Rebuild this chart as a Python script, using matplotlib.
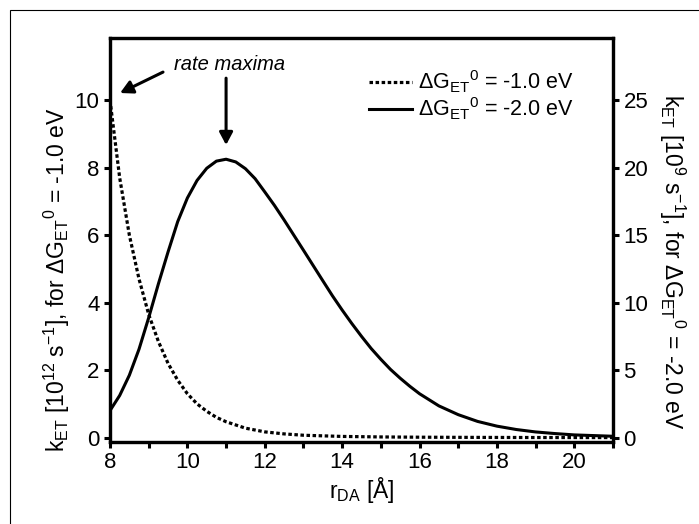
import numpy as np
import matplotlib
matplotlib.use("Agg")
import matplotlib.pyplot as plt
from matplotlib.patches import Rectangle
from matplotlib.ticker import MultipleLocator

plt.rcParams['font.family'] = ['Liberation Sans', 'DejaVu Sans']
plt.rcParams['mathtext.fontset'] = 'custom'
plt.rcParams['mathtext.rm'] = 'Liberation Sans'
plt.rcParams['mathtext.it'] = 'Liberation Sans:italic'

# dG = -1.0 eV, left axis, 10^12 s^-1
r_dot = [8.0, 8.25, 8.5, 8.75, 9.0, 9.25, 9.5, 9.75, 10.0, 10.25, 10.5, 10.75, 11.0,
         11.5, 12.0, 12.5, 13.0, 14.0, 15.0, 16.0, 17.0, 18.0, 19.0, 20.0, 21.0]
k_dot = [10.0, 7.7, 6.0, 4.7, 3.65, 2.85, 2.2, 1.7, 1.3, 1.0, 0.78, 0.6, 0.47,
         0.28, 0.17, 0.11, 0.07, 0.035, 0.02, 0.012, 0.008, 0.005, 0.003, 0.002, 0.001]

# dG = -2.0 eV, right axis, 10^9 s^-1
r_sol = [8.0, 8.25, 8.5, 8.75, 9.0, 9.25, 9.5, 9.75, 10.0, 10.25, 10.5, 10.75, 11.0,
         11.25, 11.5, 11.75, 12.0, 12.25, 12.5, 12.75, 13.0, 13.25, 13.5, 13.75, 14.0,
         14.25, 14.5, 14.75, 15.0, 15.25, 15.5, 15.75, 16.0, 16.5, 17.0, 17.5, 18.0,
         18.5, 19.0, 19.5, 20.0, 20.5, 21.0]
k_sol = [2.0, 3.12, 4.62, 6.55, 8.88, 11.38, 13.75, 16.0, 17.75, 19.05, 19.95, 20.48, 20.62,
         20.42, 19.92, 19.18, 18.2, 17.2, 16.12, 15.0, 13.88, 12.75, 11.62, 10.5, 9.45,
         8.45, 7.5, 6.6, 5.8, 5.05, 4.4, 3.8, 3.25, 2.35, 1.7, 1.2, 0.85,
         0.6, 0.42, 0.3, 0.2, 0.15, 0.1]

fig = plt.figure(figsize=(6.99, 5.24), dpi=100)
W, H = 699.0, 524.0
ax = fig.add_axes([110/W, 1-442/H, 503/W, 404/H])
ax2 = ax.twinx()

# outer frame of the picture
fig.patches.append(Rectangle((10/W, -0.2), 1.2, 1-10/H+0.2, transform=fig.transFigure,
                             fill=False, lw=0.8, ec='black'))

l1, = ax.plot(r_dot, k_dot, color='black', lw=2.3, ls=(0, (1.1, 0.8)),
              dash_capstyle='butt', label=r'$\Delta$G$_{\rm ET}$$^{0}$ = -1.0 eV')
l2, = ax2.plot(r_sol, k_sol, color='black', lw=2.2, solid_joinstyle='round',
               label=r'$\Delta$G$_{\rm ET}$$^{0}$ = -2.0 eV')

ax.set_xlim(8, 21)
ax.set_ylim(-0.13, 11.84)
ax2.set_ylim(-0.325, 29.6)

ax.set_xticks([8, 10, 12, 14, 16, 18, 20])
ax.xaxis.set_minor_locator(MultipleLocator(1))
ax.set_yticks([0, 2, 4, 6, 8, 10])
ax2.set_yticks([0, 5, 10, 15, 20, 25])

for a in (ax, ax2):
    for s in a.spines.values():
        s.set_linewidth(2.3)
    a.tick_params(which='both', direction='out', length=4.5, width=2.2,
                  labelsize=16, pad=3)
ax.tick_params(axis='x', which='minor', length=4.5, width=2.2)

fig.text(57/W, 1-280/H,
         r'k$_{\rm ET}$ [10$^{12}$ s$^{-1}$], for $\Delta$G$_{\rm ET}$$^{0}$ = -1.0 eV',
         rotation=90, ha='center', va='center', fontsize=16.5)
fig.text(672/W, 1-262/H,
         r'k$_{\rm ET}$ [10$^{9}$ s$^{-1}$], for $\Delta$G$_{\rm ET}$$^{0}$ = -2.0 eV',
         rotation=-90, ha='center', va='center', fontsize=16.5)
fig.text(362/W, 1-490/H, r'r$_{\rm DA}$ [Å]', ha='center', va='center', fontsize=16.5)

leg = ax.legend(handles=[l1, l2], loc='upper right', bbox_to_anchor=(0.94, 0.945),
                frameon=False, fontsize=15.5, handlelength=2.0, handletextpad=0.3,
                labelspacing=0.0, borderaxespad=0)

ax.text(11.08, 11.05, 'rate maxima', style='italic', ha='center', va='center', fontsize=14.5)
ax.annotate('', xy=(8.26, 10.21), xytext=(9.37, 10.83),
            arrowprops=dict(arrowstyle='-|>,head_length=0.75,head_width=0.4',
                            lw=2.2, color='black', shrinkA=0, shrinkB=0))
ax.annotate('', xy=(11.0, 8.67), xytext=(11.0, 10.65),
            arrowprops=dict(arrowstyle='-|>,head_length=0.75,head_width=0.4',
                            lw=2.2, color='black', shrinkA=0, shrinkB=0))

fig.savefig('out.png', dpi=100)
